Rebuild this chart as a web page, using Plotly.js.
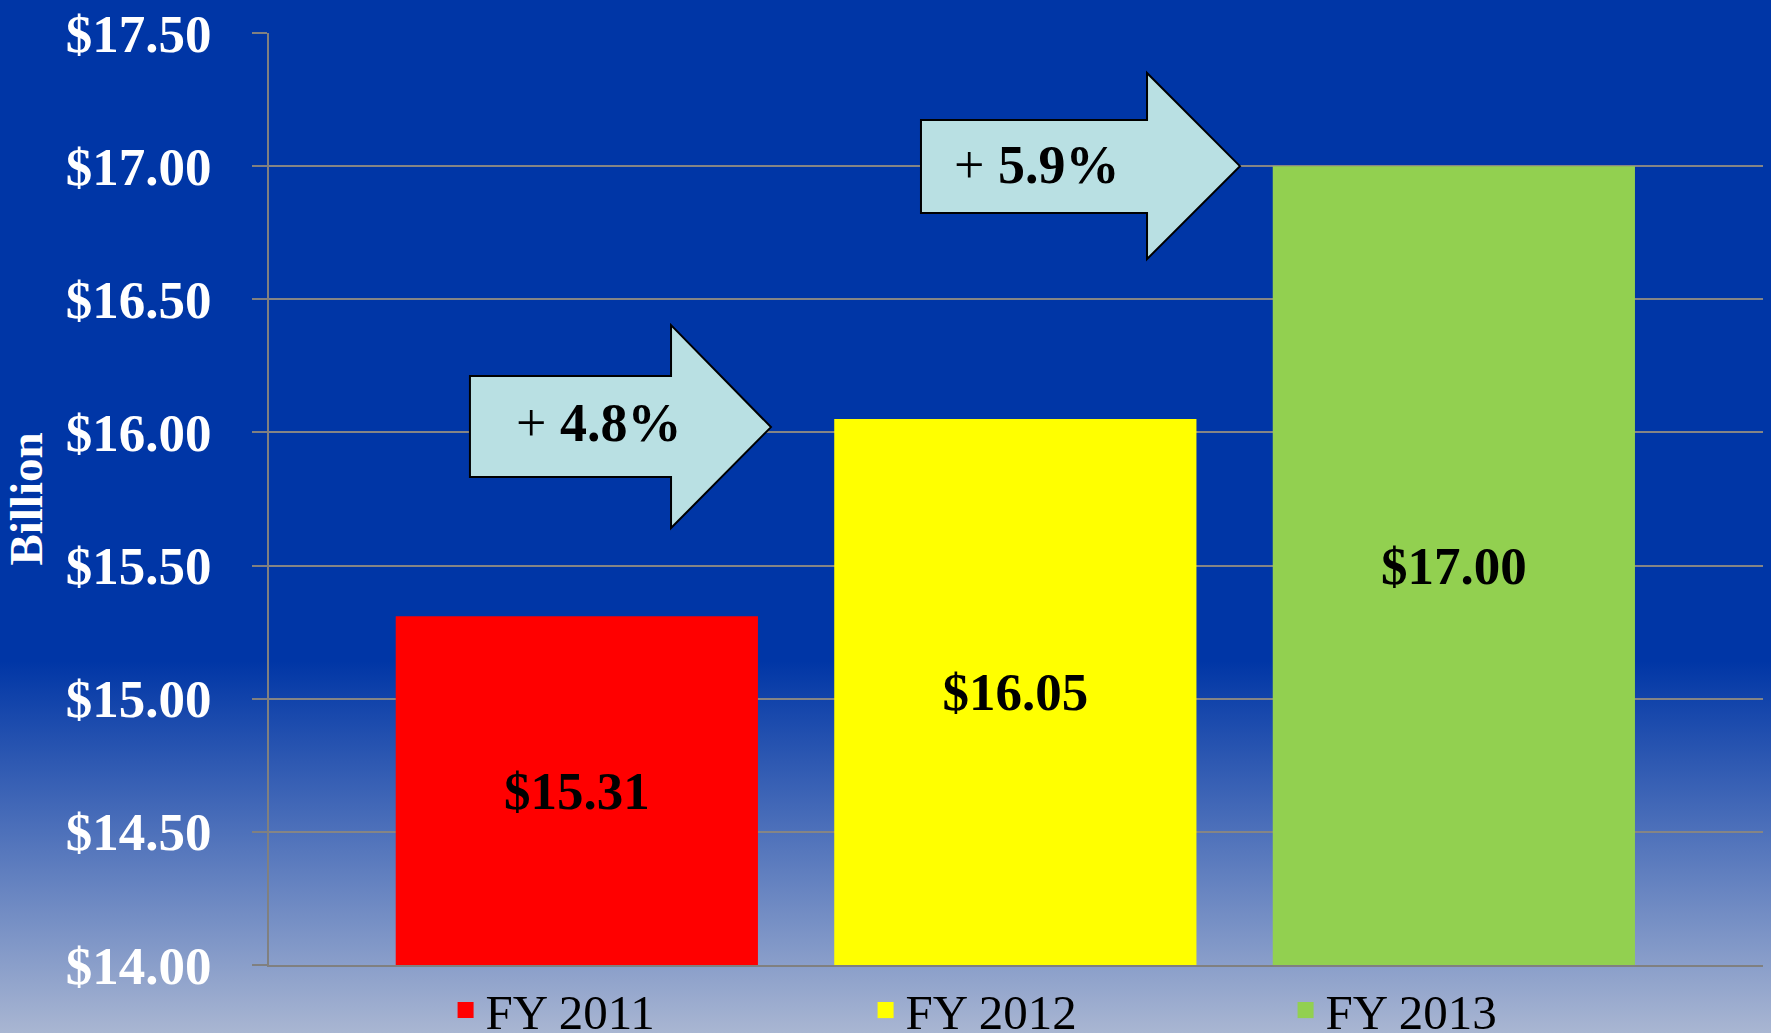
<!DOCTYPE html>
<html>
<head>
<meta charset="utf-8">
<script src="https://cdn.plot.ly/plotly-3.0.1.min.js"></script>
<style>
  html, body { margin: 0; padding: 0; width: 1771px; height: 1033px; overflow: hidden; }
  body { background: linear-gradient(to bottom, #0036A6 0%, #0036A6 64%, #A9B6D2 100%); }
  #chart { width: 1771px; height: 1033px; }
</style>
</head>
<body>
<div id="chart"></div>
<script>
// ---- data ----
const categories = ["FY 2011", "FY 2012", "FY 2013"];
const values = [15.31, 16.05, 17.00];
const barColors = ["#FF0000", "#FFFF00", "#92D050"];
const growthLabels = ["4.8%", "5.9%"];
const yTickStep = 0.5;
const yMin = 14.0, yMax = 17.5;

const FONT = "'Liberation Serif', 'Times New Roman', serif";

// bars start at the axis floor so that the inside labels sit in the visible part
const barTraces = categories.map((c, i) => ({
  type: "bar",
  name: c,
  legendgroup: c,
  showlegend: false,
  x: [c],
  base: [yMin],
  y: [values[i] - yMin],
  customdata: [values[i]],
  width: 0.826,
  marker: { color: barColors[i], line: { width: 0 } },
  texttemplate: "$%{customdata:.2f}",
  textposition: "inside",
  insidetextanchor: "middle",
  textangle: 0,
  constraintext: "none",
  textfont: { family: FONT, size: 53, color: "#000000", weight: "bold" },
  hoverinfo: "skip"
}));

// legend entries (square swatches, no drawn marks)
const legendTraces = categories.map((c, i) => ({
  type: "scatter",
  mode: "markers",
  name: c,
  legendgroup: c,
  showlegend: true,
  x: [c],
  y: [null],
  marker: { symbol: "square", size: 16, color: barColors[i] },
  hoverinfo: "skip"
}));

function arrowPath(xl, xh, xt, yBt, yBb, yHt, yHb, yT) {
  return `M ${xl} ${yBt} L ${xh} ${yBt} L ${xh} ${yHt} L ${xt} ${yT} L ${xh} ${yHb} L ${xh} ${yBb} L ${xl} ${yBb} Z`;
}

const shapes = [
  {
    type: "path", xref: "paper", yref: "y",
    path: arrowPath(0.1345, 0.2691, 0.3360, 16.212, 15.833, 16.403, 15.641, 16.02),
    fillcolor: "#B9E0E3", line: { color: "#000000", width: 2 }, layer: "above"
  },
  {
    type: "path", xref: "paper", yref: "y",
    path: arrowPath(0.4364, 0.5877, 0.6499, 17.173, 16.824, 17.350, 16.651, 17.0),
    fillcolor: "#B9E0E3", line: { color: "#000000", width: 2 }, layer: "above"
  }
];

const annotations = [
  { xref: "paper", yref: "y", x: 0.2205, y: 16.035, text: "+ <b>" + growthLabels[0] + "</b>",
    showarrow: false, font: { family: FONT, size: 54, color: "#000000" }, xanchor: "center", yanchor: "middle" },
  { xref: "paper", yref: "y", x: 0.5137, y: 17.005, text: "+ <b>" + growthLabels[1] + "</b>",
    showarrow: false, font: { family: FONT, size: 54, color: "#000000" }, xanchor: "center", yanchor: "middle" }
];

const layout = {
  width: 1771,
  height: 1033,
  margin: { l: 269, r: 8, t: 33, b: 68, pad: 0, autoexpand: false },
  paper_bgcolor: "rgba(0,0,0,0)",
  plot_bgcolor: "rgba(0,0,0,0)",
  barmode: "overlay",
  showlegend: true,
  font: { family: FONT },
  xaxis: {
    type: "category",
    range: [-0.702, 2.705],
    showticklabels: false,
    ticks: "",
    showgrid: false,
    showline: true,
    linecolor: "#808080",
    linewidth: 2,
    zeroline: false,
    fixedrange: true
  },
  yaxis: {
    range: [yMin, yMax],
    dtick: yTickStep,
    tick0: yMin,
    tickformat: ".2f",
    tickprefix: "$",
    ticks: "outside",
    ticklen: 15,
    tickwidth: 2,
    tickcolor: "#808080",
    ticklabelstandoff: 30,
    tickfont: { family: FONT, size: 53, color: "#FFFFFF", weight: "bold" },
    showgrid: true,
    gridcolor: "#858585",
    gridwidth: 2,
    showline: true,
    linecolor: "#808080",
    linewidth: 2,
    zeroline: false,
    fixedrange: true,
    title: {
      text: "Billion",
      font: { family: FONT, size: 47, color: "#FFFFFF", weight: "bold" },
      standoff: 9
    }
  },
  legend: {
    orientation: "h",
    xref: "container",
    yref: "container",
    x: 0.2516,
    xanchor: "left",
    y: 0.022,
    yanchor: "middle",
    bgcolor: "rgba(0,0,0,0)",
    borderwidth: 0,
    entrywidth: 375,
    entrywidthmode: "pixels",
    font: { family: FONT, size: 49, color: "#000000" },
    traceorder: "normal"
  },
  shapes: shapes,
  annotations: annotations
};

Plotly.newPlot("chart", barTraces.concat(legendTraces), layout, { staticPlot: true, displayModeBar: false });
</script>
</body>
</html>
